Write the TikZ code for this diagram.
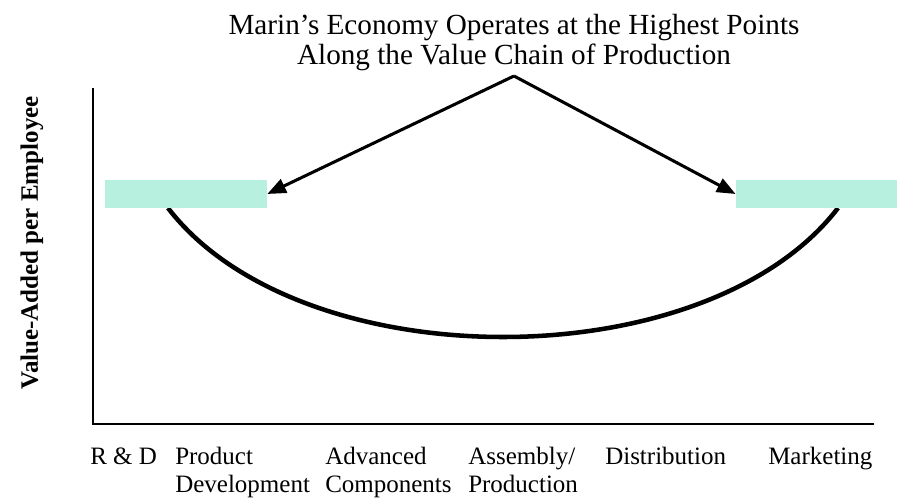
\documentclass[tikz,border=0pt]{standalone}
\usepackage{fontspec}
\setmainfont{Liberation Serif}
\usetikzlibrary{arrows.meta}
\definecolor{aquabox}{RGB}{184,240,224}
\begin{document}
\begin{tikzpicture}[
        x=0.75pt, y=-0.75pt,
        axis/.style={draw, line width=1pt},
        pointer/.style={draw, line width=2.3pt, -{Triangle[length=14pt, width=11pt]}},
        chain/.style={draw, line width=3.4pt},
        highbox/.style={fill=aquabox, inner sep=0pt, minimum height=21pt},
        stage/.style={anchor=base west, inner sep=0pt, align=left,
            font=\fontsize{18.75}{21}\selectfont},
        title/.style={align=center, inner sep=0pt, font=\fontsize{21.9}{22.5}\selectfont}
    ]
    \useasboundingbox (0,0) rectangle (897,498);
    % axes
    \coordinate (top) at (93,88);
    \coordinate (origin) at (93,424);
    \coordinate (right) at (874,424);
    \draw[axis] (top) -- (origin) -- (right);
    \node[rotate=90, inner sep=0pt, font=\fontsize{18.75}{21}\selectfont\bfseries] (ylabel) at (32,243) {Value-Added per Employee};
    % value chain curve
    \coordinate (cl) at (168,208);
    \coordinate (cr) at (838,208);
    \draw[chain] (cl) .. controls (300,380) and (706,380) .. (cr);
    % highest points
    \node[highbox, minimum width=121.5pt] (lbox) at (186,194) {};
    \node[highbox, minimum width=121pt] (rbox) at (816.5,194) {};
    % title and arrows
    \node[title] (head) at (514,43) {Marin’s Economy Operates at the Highest Points\\Along the Value Chain of Production};
    \coordinate (apex) at (514,76);
    \draw[pointer] (apex) -- (lbox.east);
    \draw[pointer] (apex) -- (rbox.west);
    % stages (two-line ones sit on their second baseline)
    \node[stage] (rd) at (90,465) {R \& D};
    \node[stage] (pd) at (175,493) {Product\\Development};
    \node[stage] (ac) at (325,493) {Advanced\\Components};
    \node[stage] (ap) at (468,493) {Assembly/\\Production};
    \node[stage] (di) at (605,465) {Distribution};
    \node[stage] (mk) at (768,465) {Marketing};
\end{tikzpicture}
\end{document}
